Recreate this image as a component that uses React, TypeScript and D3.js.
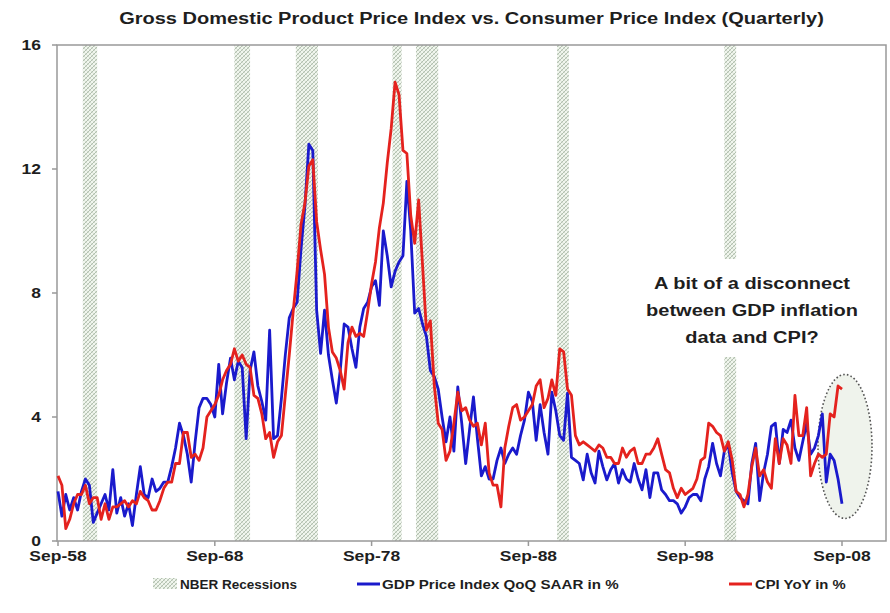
import React from 'react';
import * as d3 from 'd3';

// quarterly observations, Sep-58 .. Sep-08
const startQuarter = new Date(1958, 8, 1);
const endQuarter = new Date(2008, 8, 1);

const gdpPriceIndex: number[] = [
  1.6, 0.8,
  1.5, 1.0, 1.4, 1.0,
  1.6, 2.0, 1.8, 0.6,
  0.9, 1.2, 1.5, 1.0,
  2.3, 0.9, 1.4, 0.8,
  1.2, 0.5, 1.5, 2.4,
  1.5, 1.4, 2.0, 1.6,
  1.7, 1.9, 1.9, 2.4,
  3.0, 3.8, 3.4, 2.8,
  1.9, 3.2, 4.3, 4.6,
  4.6, 4.4, 4.0, 5.7,
  4.1, 5.1, 5.9, 5.2,
  5.8, 5.6, 3.3, 5.5,
  6.1, 5.0, 4.5, 3.9,
  6.8, 3.3, 3.4, 4.6,
  6.0, 7.2, 7.5, 7.7,
  9.4, 10.8, 12.8, 12.6,
  7.45, 6.05, 7.45, 6.0,
  5.2, 4.45, 5.5, 7.0,
  6.9, 6.2, 5.6, 6.9,
  7.5, 7.7, 8.2, 8.4,
  7.6, 10.0, 9.2, 8.2,
  8.7, 9.0, 9.2, 11.6,
  10.0, 7.35, 7.5, 7.0,
  6.6, 5.5, 5.3, 4.9,
  4.0, 3.2, 4.0, 2.9,
  4.97, 3.8, 2.5, 3.6,
  4.65, 3.3, 2.1, 2.4,
  2.0, 2.0, 2.6, 3.0,
  2.5, 2.8, 3.0, 2.8,
  3.4, 3.9, 4.8, 4.5,
  3.25, 4.4, 3.5, 2.8,
  4.8, 4.2, 3.4, 3.25,
  4.77, 2.7, 2.6, 2.5,
  1.97, 2.8, 2.2, 1.87,
  2.9, 2.4, 1.97, 2.3,
  2.5, 1.87, 2.3, 2.0,
  1.9, 2.5, 2.0, 1.65,
  2.3, 1.4, 2.2, 2.2,
  1.65, 1.5, 1.3, 1.3,
  1.2, 0.9, 1.1, 1.4,
  1.5, 1.5, 1.3, 2.0,
  2.4, 3.15, 2.5, 2.1,
  2.9, 3.1, 2.2, 1.6,
  1.4, 1.3, 1.2, 2.5,
  3.15, 1.3, 2.2, 2.8,
  3.7, 3.8, 2.5, 3.6,
  3.5, 3.9, 3.0, 2.6,
  3.2, 3.8, 2.8, 3.0,
  3.4, 4.1, 1.9, 2.8,
  2.6, 2.0, 1.2
];

const cpiYoY: number[] = [
  2.1, 1.8,
  0.4, 0.7, 1.2, 1.5,
  1.5, 1.8, 1.2, 1.4,
  1.4, 0.7, 1.2, 0.7,
  1.1, 1.1, 1.2, 1.3,
  1.1, 1.3, 1.2, 1.6,
  1.4, 1.3, 1.0, 1.0,
  1.3, 1.7, 1.9, 1.9,
  2.5, 2.5, 3.5, 3.5,
  2.7, 2.8, 2.6, 3.0,
  4.0, 4.2, 4.4, 4.7,
  5.2, 5.5, 5.7, 6.2,
  5.8, 6.0, 5.7, 5.6,
  4.7, 4.6, 4.1, 3.3,
  3.5, 2.7, 3.2, 3.4,
  4.7, 6.0, 7.4, 8.7,
  10.2, 10.9, 12.1, 12.3,
  10.3, 9.4, 8.6, 6.9,
  6.1, 5.9, 5.5, 4.9,
  6.4, 6.9, 6.6, 6.7,
  6.6, 7.4, 8.3, 9.0,
  10.1, 10.9, 12.2, 13.3,
  14.8, 14.4, 12.6, 12.5,
  10.5, 9.6, 11.0, 8.9,
  6.8, 7.1, 5.0, 3.8,
  3.6, 2.6, 2.9, 3.8,
  4.8, 4.2, 4.3, 3.9,
  3.7, 3.8, 3.1, 3.8,
  2.2, 1.8, 1.8, 1.1,
  3.0, 3.7, 4.3, 4.4,
  3.9, 4.0, 4.2, 4.4,
  5.0, 5.2, 4.3, 4.6,
  5.2, 4.7, 6.2, 6.1,
  4.9, 4.7, 3.4, 3.1,
  3.2, 3.1, 3.0, 2.9,
  3.1, 3.0, 2.7, 2.7,
  2.5, 2.5, 3.0, 2.7,
  2.9, 3.0, 2.5, 2.5,
  2.8, 2.8, 3.0, 3.3,
  2.8, 2.3, 2.2, 1.7,
  1.4, 1.7, 1.5, 1.6,
  1.7, 2.0, 2.6, 2.7,
  3.8, 3.7, 3.5, 3.4,
  2.9, 3.2, 2.6, 1.6,
  1.5, 1.1, 1.5, 2.4,
  3.0, 2.1, 2.3, 1.9,
  1.7, 3.3, 2.5, 3.3,
  3.1, 2.5, 4.7, 3.4,
  3.4, 4.3, 2.1, 2.5,
  2.8, 2.7, 2.8, 4.1,
  4.0, 5.0, 4.9
];

// NBER recession start / end months
const recessionStarts = ['1960-04', '1969-12', '1973-11', '1980-01', '1981-07', '1990-07', '2001-03'];
const recessionEnds = ['1961-02', '1970-11', '1975-03', '1980-07', '1982-11', '1991-03', '2001-11'];

const xTickYears = [1958, 1968, 1978, 1988, 1998, 2008];
const xTickLabels = ['Sep-58', 'Sep-68', 'Sep-78', 'Sep-88', 'Sep-98', 'Sep-08'];
const yTicks = [0, 4, 8, 12, 16];

const title = 'Gross Domestic Product Price Index vs. Consumer Price Index (Quarterly)';
const noteLines = ['A bit of a disconnect', 'between GDP inflation', 'data and CPI?'];
const legendLabels = ['NBER Recessions', 'GDP Price Index QoQ SAAR in %', 'CPI YoY in %'];

const W = 890;
const H = 613;
const FONT = '"Liberation Sans", Arial, sans-serif';

const App: React.FC = () => {
  const svgRef = React.useRef<SVGSVGElement>(null);

  React.useEffect(() => {
    if (!svgRef.current) return;
    const svg = d3.select(svgRef.current);
    svg.selectAll('*').remove();

    const left = 57, right = 886, top = 45, bottom = 541;
    const parseMonth = d3.timeParse('%Y-%m');
    const dates = gdpPriceIndex.map((_, i) => d3.timeMonth.offset(startQuarter, 3 * i));

    const x = d3.scaleTime().domain([startQuarter, endQuarter]).range([58, 842]);
    const y = d3.scaleLinear().domain([0, 16]).range([bottom, top]);

    const defs = svg.append('defs');
    const pat = defs.append('pattern')
      .attr('id', 'hatch')
      .attr('patternUnits', 'userSpaceOnUse')
      .attr('width', 4)
      .attr('height', 4);
    pat.append('rect').attr('width', 4).attr('height', 4).attr('fill', '#f1f6ee');
    pat.append('path').attr('d', 'M0,4 L4,0').attr('stroke', '#a3b3a0').attr('stroke-width', 0.8);
    pat.append('path').attr('d', 'M0,0 L4,4').attr('stroke', '#c3d0bf').attr('stroke-width', 0.6);

    const txt = (g: d3.Selection<any, unknown, null, undefined>, s: string, tx: number, ty: number,
      size: number, anchor: string, sx = 1.25) => g.append('text')
        .attr('transform', `translate(${tx},${ty}) scale(${sx},1)`)
        .attr('text-anchor', anchor)
        .attr('font-family', FONT)
        .attr('font-weight', 'bold')
        .attr('font-size', size)
        .attr('fill', '#1e1e1e')
        .text(s);

    svg.append('rect').attr('width', W).attr('height', H).attr('fill', '#fff');

    // title
    txt(svg, title, (left + right) / 2, 24, 16, 'middle');

    // recession bands
    svg.append('g').selectAll('rect')
      .data(recessionStarts.map((s, i) => [parseMonth(s)!, d3.timeMonth.offset(parseMonth(recessionEnds[i])!, 1)]))
      .enter().append('rect')
      .attr('x', d => x(d[0]))
      .attr('width', d => x(d[1]) - x(d[0]))
      .attr('y', top)
      .attr('height', bottom - top)
      .attr('fill', 'url(#hatch)');

    // annotation box + text
    const note = svg.append('g');
    note.append('rect').attr('x', 640).attr('y', 259).attr('width', 226).attr('height', 98).attr('fill', '#fff');
    noteLines.forEach((l, i) => txt(note, l, 752, 289 + i * 27, 16, 'middle'));

    // dotted ellipse around recent data
    svg.append('ellipse')
      .attr('cx', x(endQuarter) + 3)
      .attr('cy', y(3.05))
      .attr('rx', 27)
      .attr('ry', 72)
      .attr('fill', '#eff3ec')
      .attr('stroke', '#555')
      .attr('stroke-width', 1.6)
      .attr('stroke-dasharray', '1.6,2.2');

    // frame / axes
    svg.append('rect')
      .attr('x', left).attr('y', top)
      .attr('width', right - left).attr('height', bottom - top)
      .attr('fill', 'none').attr('stroke', '#999').attr('stroke-width', 1.5);

    const yAxis = svg.append('g');
    yTicks.forEach(t => {
      yAxis.append('line').attr('x1', left - 5).attr('x2', left).attr('y1', y(t)).attr('y2', y(t))
        .attr('stroke', '#999').attr('stroke-width', 1.5);
      txt(yAxis, String(t), 41, y(t) + 5, 14, 'end');
    });

    const xAxis = svg.append('g');
    xTickYears.forEach((yr, i) => {
      const d = new Date(yr, 8, 1);
      xAxis.append('line').attr('x1', x(d)).attr('x2', x(d)).attr('y1', bottom).attr('y2', bottom + 5)
        .attr('stroke', '#999').attr('stroke-width', 1.5);
      txt(xAxis, xTickLabels[i], x(d), 561, 14, 'middle');
    });

    // series
    const line = d3.line<number>()
      .x((_, i) => x(dates[i]))
      .y(d => y(d));

    svg.append('path')
      .datum(gdpPriceIndex)
      .attr('fill', 'none')
      .attr('stroke', '#1a1acc')
      .attr('stroke-width', 2.8)
      .attr('stroke-linejoin', 'round')
      .attr('d', line);

    svg.append('path')
      .datum(cpiYoY)
      .attr('fill', 'none')
      .attr('stroke', '#e4221e')
      .attr('stroke-width', 2.8)
      .attr('stroke-linejoin', 'round')
      .attr('d', line);

    // legend
    const lg = svg.append('g');
    lg.append('rect').attr('x', 153).attr('y', 578).attr('width', 24).attr('height', 11).attr('fill', 'url(#hatch)');
    txt(lg, legendLabels[0], 180, 589, 13.5, 'start', 1.0);
    lg.append('line').attr('x1', 357).attr('x2', 380).attr('y1', 584).attr('y2', 584)
      .attr('stroke', '#1a1acc').attr('stroke-width', 3);
    txt(lg, legendLabels[1], 382, 589, 13.5, 'start', 1.12);
    lg.append('line').attr('x1', 729).attr('x2', 752).attr('y1', 584).attr('y2', 584)
      .attr('stroke', '#e4221e').attr('stroke-width', 3);
    txt(lg, legendLabels[2], 755, 589, 13.5, 'start', 1.1);
  }, []);

  return (
    <div style={{ position: 'fixed', left: 0, top: 0 }}>
      <svg ref={svgRef} width={W} height={H} style={{ display: 'block' }} />
    </div>
  );
};

export default App;
